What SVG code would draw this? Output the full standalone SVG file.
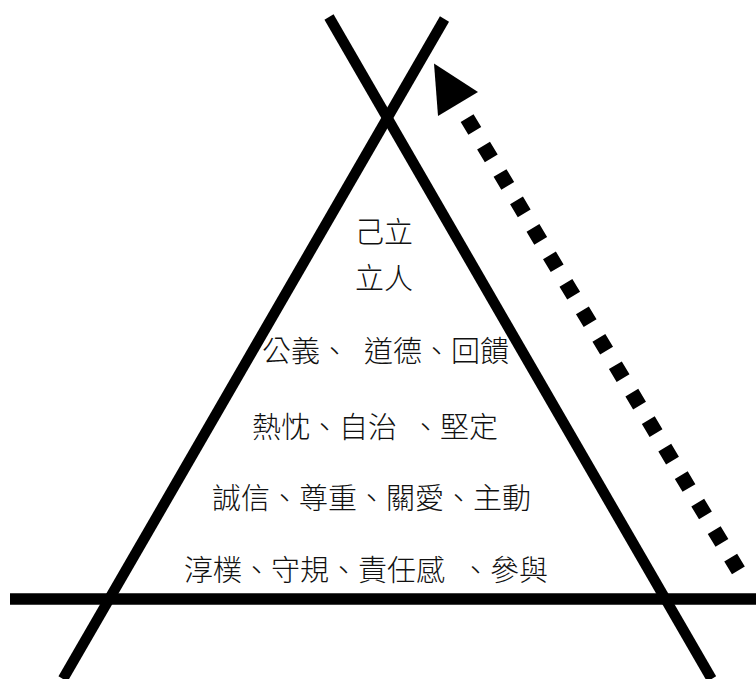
<svg xmlns="http://www.w3.org/2000/svg" width="756" height="679" viewBox="0 0 756 679">
  <style>
    .frame { stroke: #000; stroke-width: 10.5; fill: none; stroke-linecap: butt; }
    .base { stroke: #000; stroke-width: 11.5; fill: none; }
    .dots { stroke: #000; stroke-width: 15; fill: none; stroke-dasharray: 15 17.03; stroke-linecap: butt; }
    .head { fill: #000; }
    .t { font-family: "Noto Sans CJK TC", "Noto Sans CJK SC", sans-serif; font-size: 29px; font-weight: 300; fill: #111; }
  </style>
  <rect width="756" height="679" fill="#fff"/>
  <g id="connectors">
    <line class="frame" x1="329" y1="17" x2="711.6" y2="679"/>
    <line class="frame" x1="444.5" y1="19" x2="63" y2="679"/>
    <line class="base" x1="10" y1="599" x2="756" y2="599"/>
    <line class="dots" x1="738.4" y1="570.4" x2="467.1" y2="118.1"/>
    <polygon class="head" points="434,63.6 478,92 438,116"/>
  </g>
  <g id="row1"><text class="t" x="384" y="243" text-anchor="middle">己立</text></g>
  <g id="row2"><text class="t" x="384" y="289" text-anchor="middle">立人</text></g>
  <g id="row3"><text class="t" y="362"><tspan x="262">公義、</tspan><tspan x="364">道德、回饋</tspan></text></g>
  <g id="row4"><text class="t" y="438"><tspan x="252">熱忱、自治</tspan><tspan x="411">、堅定</tspan></text></g>
  <g id="row5"><text class="t" x="212" y="509">誠信、尊重、關愛、主動</text></g>
  <g id="row6"><text class="t" y="581"><tspan x="184">淳樸、守規、責任感</tspan><tspan x="461">、參與</tspan></text></g>
</svg>
